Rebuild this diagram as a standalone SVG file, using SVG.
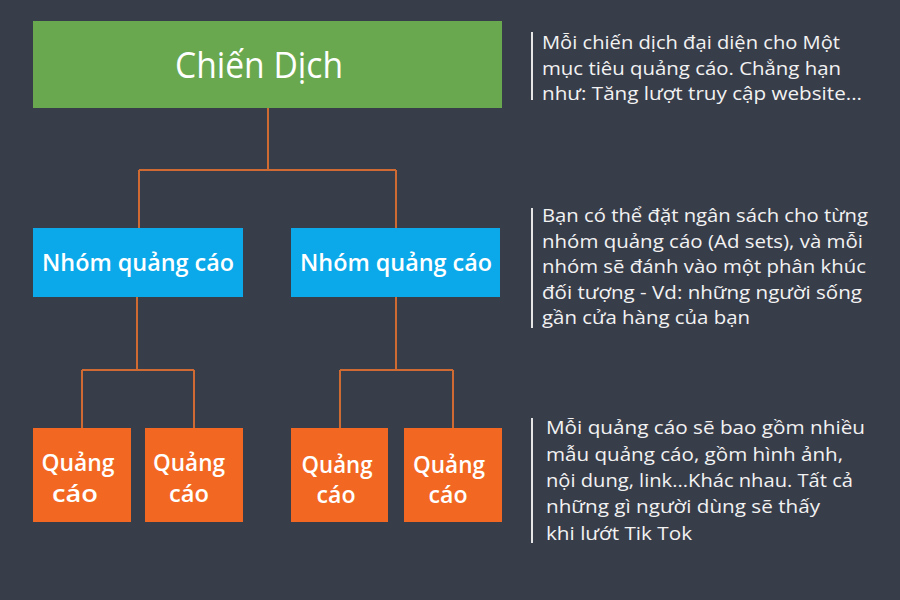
<svg xmlns="http://www.w3.org/2000/svg" width="900" height="600" viewBox="0 0 900 600">
<style>
.bg{fill:#383d4a}
.top{fill:#6aa84f}
.grp{fill:#0ba9ea}
.ad{fill:#f26822}
.lbl{fill:#ffffff;font-family:"Open Sans","Noto Sans","DejaVu Sans",sans-serif;font-weight:600;text-anchor:middle}
.title{fill:#ffffff;font-family:"Open Sans","Noto Sans","DejaVu Sans",sans-serif;font-weight:400;text-anchor:middle;font-size:36px}
.note{fill:#f2f2f2;font-family:"Open Sans","Noto Sans","DejaVu Sans",sans-serif;font-size:19px}
.bar{stroke:#e6e6e6;stroke-width:2}
.conn{fill:none;stroke:#cf6a33;stroke-width:2}
</style>
<rect class="bg" x="0" y="0" width="900" height="600"/>
<g id="connectors">
<path class="conn" d="M268 108 V170 M139 170 H396 M139 170 V228 M396 170 V228"/>
<path class="conn" d="M137 297 V370 M82 370 H194 M82 370 V428 M194 370 V428"/>
<path class="conn" d="M396 297 V370 M340 370 H453 M340 370 V428 M453 370 V428"/>
</g>
<g id="chien-dich">
<rect class="top" x="33" y="21" width="469" height="87"/>
<text class="title" x="259" y="78" textLength="168" lengthAdjust="spacingAndGlyphs">Chiến Dịch</text>
</g>
<g id="nhom-1">
<rect class="grp" x="33" y="228" width="210" height="69"/>
<text class="lbl" x="138" y="271" font-size="24" textLength="192" lengthAdjust="spacingAndGlyphs">Nhóm quảng cáo</text>
</g>
<g id="nhom-2">
<rect class="grp" x="291" y="228" width="209" height="69"/>
<text class="lbl" x="396" y="271" font-size="24" textLength="192" lengthAdjust="spacingAndGlyphs">Nhóm quảng cáo</text>
</g>
<g id="quangcao-1">
<rect class="ad" x="33" y="428" width="98" height="94"/>
<text class="lbl" x="78" y="471" font-size="23" textLength="73" lengthAdjust="spacingAndGlyphs">Quảng</text>
<text class="lbl" x="75" y="502" font-size="23" textLength="46" lengthAdjust="spacingAndGlyphs">cáo</text>
</g>
<g id="quangcao-2">
<rect class="ad" x="145" y="428" width="98" height="94"/>
<text class="lbl" x="189" y="471" font-size="23" textLength="72" lengthAdjust="spacingAndGlyphs">Quảng</text>
<text class="lbl" x="189" y="502" font-size="23" textLength="40" lengthAdjust="spacingAndGlyphs">cáo</text>
</g>
<g id="quangcao-3">
<rect class="ad" x="291" y="428" width="97" height="94"/>
<text class="lbl" x="337" y="473" font-size="23" textLength="71" lengthAdjust="spacingAndGlyphs">Quảng</text>
<text class="lbl" x="336" y="503" font-size="23" textLength="39" lengthAdjust="spacingAndGlyphs">cáo</text>
</g>
<g id="quangcao-4">
<rect class="ad" x="404" y="428" width="98" height="94"/>
<text class="lbl" x="449" y="473" font-size="23" textLength="72" lengthAdjust="spacingAndGlyphs">Quảng</text>
<text class="lbl" x="448" y="503" font-size="23" textLength="39" lengthAdjust="spacingAndGlyphs">cáo</text>
</g>
<g id="note-chien-dich">
<line class="bar" x1="532" y1="32" x2="532" y2="100"/>
<text class="note" x="542" y="49" textLength="298" lengthAdjust="spacingAndGlyphs">Mỗi chiến dịch đại diện cho Một</text>
<text class="note" x="542" y="75" textLength="299" lengthAdjust="spacingAndGlyphs">mục tiêu quảng cáo. Chẳng hạn</text>
<text class="note" x="542" y="100" textLength="320" lengthAdjust="spacingAndGlyphs">như: Tăng lượt truy cập website...</text>
</g>
<g id="note-nhom">
<line class="bar" x1="532" y1="208" x2="532" y2="328"/>
<text class="note" x="542" y="222" textLength="326" lengthAdjust="spacingAndGlyphs">Bạn có thể đặt ngân sách cho từng</text>
<text class="note" x="542" y="248" textLength="321" lengthAdjust="spacingAndGlyphs">nhóm quảng cáo (Ad sets), và mỗi</text>
<text class="note" x="542" y="273" textLength="324" lengthAdjust="spacingAndGlyphs">nhóm sẽ đánh vào một phân khúc</text>
<text class="note" x="542" y="299" textLength="320" lengthAdjust="spacingAndGlyphs">đối tượng - Vd: những người sống</text>
<text class="note" x="542" y="324" textLength="208" lengthAdjust="spacingAndGlyphs">gần cửa hàng của bạn</text>
</g>
<g id="note-quangcao">
<line class="bar" x1="532" y1="418" x2="532" y2="543"/>
<text class="note" x="546" y="434" textLength="319" lengthAdjust="spacingAndGlyphs">Mỗi quảng cáo sẽ bao gồm nhiều</text>
<text class="note" x="546" y="461" textLength="297" lengthAdjust="spacingAndGlyphs">mẫu quảng cáo, gồm hình ảnh,</text>
<text class="note" x="546" y="487" textLength="307" lengthAdjust="spacingAndGlyphs">nội dung, link...Khác nhau. Tất cả</text>
<text class="note" x="546" y="513" textLength="274" lengthAdjust="spacingAndGlyphs">những gì người dùng sẽ thấy</text>
<text class="note" x="546" y="540" textLength="146" lengthAdjust="spacingAndGlyphs">khi lướt Tik Tok</text>
</g>
</svg>
